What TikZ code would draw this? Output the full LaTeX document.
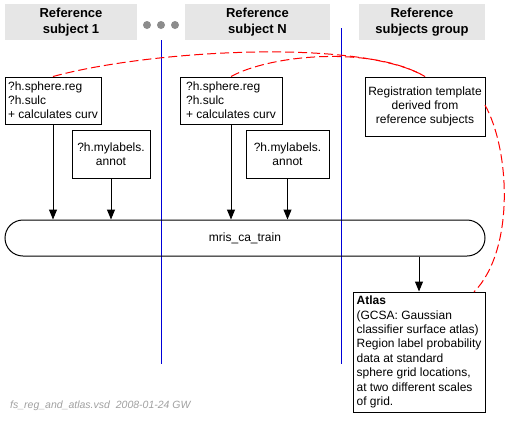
\documentclass[tikz,border=0pt]{standalone}
\usepackage{fontspec}
\setmainfont{Liberation Sans}
\usetikzlibrary{arrows.meta}
\definecolor{hdrgray}{RGB}{230,230,230}
\definecolor{dotgray}{RGB}{140,140,140}
\definecolor{lanecol}{RGB}{0,0,215}
\definecolor{footgray}{RGB}{160,160,160}
\tikzset{
  hdr/.style={fill=hdrgray, draw=none, minimum height=36pt, align=center, inner sep=0pt,
    font=\fontsize{13}{16}\selectfont\bfseries},
  filebox/.style={draw=black, line width=1pt, inner xsep=3pt, inner ysep=0pt,
    font=\fontsize{12}{14}\selectfont},
  procbox/.style={draw=black, line width=1pt, rounded corners=18pt, minimum width=480pt,
    minimum height=36pt, font=\fontsize{12}{14}\selectfont},
  arr/.style={line width=1pt, -{Triangle[length=10pt,width=8pt]}},
  lane/.style={draw=lanecol, line width=1pt},
  reddash/.style={draw=red, line width=1pt, dash pattern=on 9pt off 4pt},
  dotc/.style={fill=dotgray, draw=none, circle, minimum size=8pt, inner sep=0pt}
}
\begin{document}
\begin{tikzpicture}[x=1pt,y=-1pt]
\useasboundingbox (0,0) rectangle (511,421);
% headers
\node[hdr, minimum width=132pt] (h1) at (71,22) {Reference\\subject 1};
\node[hdr, minimum width=145pt] (hn) at (257.5,22) {Reference\\subject N};
\node[hdr, minimum width=126pt] (hg) at (422,22) {Reference\\subjects group};
\node[dotc] (d1) at (147,25) {};
\node[dotc] (d2) at (161,25) {};
\node[dotc] (d3) at (175,25) {};
% lanes
\coordinate (l1t) at (161,40);
\coordinate (l1b) at (161,364);
\coordinate (l2t) at (341,28);
\coordinate (l2b) at (341,364);
\draw[lane] (l1t) -- (l1b);
\draw[lane] (l2t) -- (l2b);
% subject boxes
\node[filebox, minimum width=96pt, minimum height=47pt, align=left] (a1) at (53,100.5)
  {?h.sphere.reg\\?h.sulc\\+ calculates curv};
\node[filebox, minimum width=78pt, minimum height=48pt, align=center] (b1) at (111,154)
  {?h.mylabels.\\annot};
\node[filebox, minimum width=102pt, minimum height=47pt, align=left] (an) at (231,100.5)
  {?h.sphere.reg\\?h.sulc\\+ calculates curv\hspace{6pt}};
\node[filebox, minimum width=83pt, minimum height=48pt, align=center] (bn) at (287.5,154)
  {?h.mylabels.\\annot};
\node[filebox, minimum width=120pt, minimum height=59pt, align=center] (tmpl) at (425,106.5)
  {Registration template\\derived from\\reference subjects};
% process
\node[procbox] (train) at (245,238) {mris\_ca\_train};
% atlas
\node[filebox, minimum width=132pt, minimum height=120pt, align=left,
  font=\fontsize{12}{14.4}\selectfont] (atlas) at (419,352)
  {\textbf{Atlas}\\(GCSA: Gaussian\\classifier surface atlas)\\Region label probability\\data at standard\\sphere grid locations,\\at two different scales\\of grid.};
% arrows
\draw[arr] (a1.south) -- (a1.south |- train.north);
\draw[arr] (b1.south) -- (b1.south |- train.north);
\draw[arr] (an.south) -- (an.south |- train.north);
\draw[arr] (bn.south) -- (bn.south |- train.north);
\draw[arr] (train.south -| atlas.north) -- (atlas.north);
% red dashed relations
\coordinate (tr) at (485,105);
\coordinate (ar) at (474,292);
\draw[reddash] (a1.north) .. controls (150,50) and (360,38) .. (tmpl.north);
\draw[reddash] (an.north) .. controls (270,55) and (370,45) .. (tmpl.north);
\draw[reddash] (tr) .. controls (510,150) and (515,250) .. (ar);
% footer
\node[anchor=west, inner sep=0pt, text=footgray, font=\fontsize{10.5}{12}\selectfont\itshape] (foot) at (10,406)
  {fs\_reg\_and\_atlas.vsd\ \ 2008-01-24 GW};
\end{tikzpicture}
\end{document}
